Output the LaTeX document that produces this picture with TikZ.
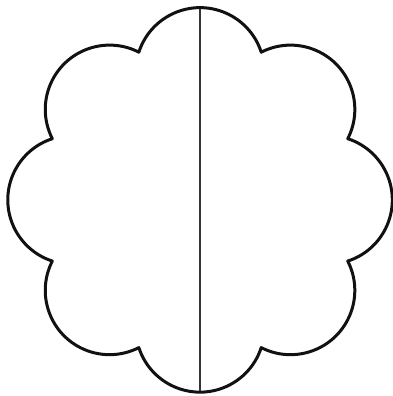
\documentclass[tikz,border=0pt]{standalone}
\usepackage{tikz}
\usetikzlibrary{calc}
\definecolor{INK}{HTML}{111111}

\begin{document}
\begin{tikzpicture}[x=1pt,y=1pt]
\tikzset{outline/.style={line width=3pt,INK,line join=round},midl/.style={line width=2.2pt,INK!85}}
\useasboundingbox (0,0) rectangle (393,396);
\coordinate (c) at (200,196);
% scalloped rim, eight lobes
\draw[outline] ($(c)+(67.5:160)$) \foreach \k in {0,...,7}{ arc[start angle=90+45*\k-72.1,end angle=90+45*\k+72.1,radius=64.3] } -- cycle;
\coordinate (top) at ($(c)+(90:191)$);\coordinate (bot) at ($(c)+(270:191)$);
\draw[midl] (top) -- (bot);
\end{tikzpicture}
\end{document}
